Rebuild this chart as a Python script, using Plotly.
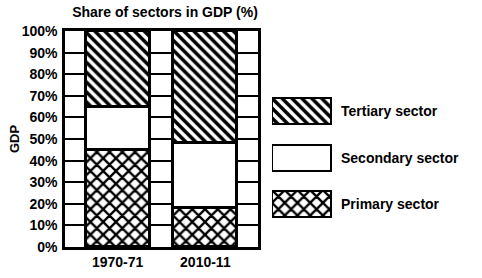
import plotly.graph_objects as go

years = ["1970-71", "2010-11"]
primary = [45, 18]
secondary = [20, 30]
tertiary = [35, 52]
y_ticks = [0, 10, 20, 30, 40, 50, 60, 70, 80, 90, 100]
y_tick_labels = [f"{v}%" for v in y_ticks]
legend_labels = ["Primary sector", "Secondary sector", "Tertiary sector"]

W, H = 482, 278
L, R, T, B = 65, 10, 31, 31
pw = W - L - R
ph = H - T - B

FONT = "Liberation Sans, Arial, sans-serif"
black = "#000000"

def px_x(p):
    return (p - L) / pw

def px_y(p):
    return (H - B - p) / ph

line = dict(color=black, width=2.6)
styles = {
    "Primary sector": dict(color="white", line=line,
                           pattern=dict(shape="x", fgcolor=black, bgcolor="white", size=9, solidity=0.45, fillmode="replace")),
    "Secondary sector": dict(color="white", line=line),
    "Tertiary sector": dict(color="white", line=line,
                            pattern=dict(shape="\\", fgcolor=black, bgcolor="white", size=7, solidity=0.5, fillmode="replace")),
}

fig = go.Figure()
for name, vals in zip(legend_labels, [primary, secondary, tertiary]):
    fig.add_trace(go.Bar(x=years, y=vals, name=name, marker=styles[name],
                         width=0.73, showlegend=False, xaxis="x", yaxis="y"))

# legend boxes on their own small axis
for name in legend_labels:
    fig.add_trace(go.Bar(x=[1], y=[name], orientation="h", marker=styles[name],
                         width=0.56, showlegend=False, xaxis="x2", yaxis="y2"))

tickfont = dict(family=FONT, size=14, color=black, weight="bold")

fig.update_layout(
    width=W, height=H,
    margin=dict(l=L, r=R, t=T, b=B, pad=0, autoexpand=False),
    paper_bgcolor="white", plot_bgcolor="white",
    barmode="stack", bargap=0,
    title=dict(text="Share of sectors in GDP (%)", x=px_x(165), xref="paper", xanchor="center",
               y=1 - 12 / H, yref="container", yanchor="middle",
               font=dict(family=FONT, size=14, color=black, weight="bold")),
    xaxis=dict(type="category", domain=[0, px_x(258)], range=[-0.6, 1.6], showgrid=False, zeroline=False,
               showline=True, mirror=True, linecolor=black, linewidth=2.5, ticks="", automargin=False,
               tickfont=dict(family=FONT, size=14, color=black, weight="bold")),
    yaxis=dict(domain=[0, 1], range=[0, 100], tickvals=y_ticks, ticktext=y_tick_labels,
               showgrid=True, gridcolor=black, gridwidth=2, zeroline=False, automargin=False,
               showline=True, mirror=True, linecolor=black, linewidth=2.5, ticks="",
               tickfont=tickfont, ticklabelstandoff=2,
               title=dict(text="GDP", standoff=0,
                          font=dict(family=FONT, size=13, color=black, weight="bold"))),
    xaxis2=dict(domain=[px_x(272), px_x(332)], range=[0, 1], anchor="y2", visible=False),
    yaxis2=dict(domain=[px_y(227.75), px_y(88.25)], anchor="x2", side="right", type="category",
                categoryorder="array", categoryarray=legend_labels, range=[-0.5, 2.5],
                showgrid=False, zeroline=False, showline=False, ticks="", automargin=False,
                ticklabelstandoff=8,
                tickfont=dict(family=FONT, size=14, color=black, weight="bold")),
)

fig.write_html("out.html")
